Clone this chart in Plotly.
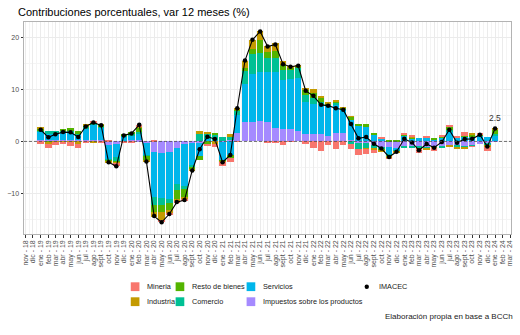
import plotly.graph_objects as go
import pandas as pd

# ---------------- data (ene-19 .. ene-24) ----------------
meses = ["ene", "feb", "mar", "abr", "may", "jun", "jul", "ago", "sept", "oct", "nov", "dic"]
tick_labels = ["nov - 18", "dic - 18"] + [f"{m} - {y}" for y in range(19, 24) for m in meses] + ["ene - 24", "feb - 24", "mar - 24"]

imacec = [2.25, 0.8, 1.4, 1.8, 1.75, 0.85, 2.9, 3.65, 3.1, -4.0, -4.8, 1.15,
          1.55, 3.2, -3.85, -14.4, -15.6, -14.0, -11.7, -11.3, -5.6, -1.5, 0.9, 0.45,
          -4.0, -2.6, 6.4, 15.6, 19.6, 21.2, 18.3, 18.7, 14.9, 14.4, 14.6, 9.75,
          8.8, 7.05, 6.9, 6.4, 6.1, 3.35, 0.6, 0.85, -0.45, -1.35, -3.0, -2.0,
          0.5, -0.2, -1.7, -0.5, -1.2, -0.1, 2.25, -0.25, 0.45, 0.5, 1.3, -1.0,
          2.5]
mineria = [-0.4, -0.9, -0.5, -0.3, -0.6, -0.8, -0.3, 0.4, -0.2, 0.1, -0.7, -0.1,
           -0.1, 0.5, 0.0, 0.1, -0.4, -0.1, -0.1, -0.2, 0.0, 0.0, -0.5, -0.75,
           -0.8, -0.8, -0.1, 0.0, 0.0, 0.0, -0.2, -0.2, -0.6, -0.1, 0.0, -0.5,
           -1.3, -1.75, -0.6, -1.5, -0.6, -1.1, -1.2, -1.0, -0.55, 0.25, -0.1, 0.0,
           0.3, 0.2, -0.8, 0.3, -0.5, 0.3, 0.55, 0.25, 0.75, -0.1, 0.3, -0.8,
           0.0]
industria = [0.2, -0.1, -0.1, -0.2, -0.2, -0.4, 0.2, -0.2, 0.1, -0.3, -0.1, -0.1,
             -0.1, 0.1, -0.1, -0.8, -1.5, -0.6, -0.5, -0.4, -0.1, 0.6, 0.2, -0.4,
             -0.1, 0.5, 0.3, 1.5, 1.8, 1.7, 1.1, 1.5, 0.7, 0.2, 0.1, 0.3,
             0.8, 0.3, 0.1, 0.1, 0.1, 0.1, 0.0, -0.1, -0.3, -0.4, -0.3, -0.1,
             0.0, 0.15, -0.1, -0.2, -0.1, 0.0, -0.3, -0.2, -0.1, 0.2, 0.1, -0.2,
             0.2]
resto = [0.3, -0.3, -0.1, 0.2, 0.5, 0.5, 0.2, 0.2, 0.3, -0.1, -0.1, 0.4,
         0.4, 0.7, -0.9, -1.4, -1.4, -1.4, -1.8, -1.6, -0.6, -0.6, -0.4, 0.3,
         -0.2, -0.6, 0.3, 0.6, 1.0, 2.5, 1.3, 1.4, 1.05, 0.6, 0.4, 1.0,
         1.0, 0.9, 0.2, 0.2, 0.1, 0.7, 0.4, 0.5, 0.3, -0.1, 0.3, 0.1,
         0.2, 0.2, -0.1, 0.1, 0.2, 0.1, 0.5, 0.1, 0.1, 0.4, 0.1, -0.1,
         0.8]
comercio = [0.2, 0.6, 0.5, 0.5, 0.3, 0.2, 0.3, 0.2, 0.2, -0.4, -0.9, 0.1,
            0.4, 0.4, -0.1, -1.6, -1.4, -0.8, -1.0, -0.6, -0.3, 1.4, 1.2, 1.0,
            0.8, 0.7, 0.8, 2.5, 3.7, 3.6, 2.6, 2.6, 1.95, 1.6, 1.8, 1.3,
            1.0, 0.6, 0.2, 0.5, 0.2, -0.4, -1.2, -1.0, -0.7, -0.6, -0.3, -0.2,
            -0.2, -0.35, -0.3, -0.4, -0.2, -0.35, 0.2, -0.3, -0.3, -0.1, 0.1, -0.4,
            0.5]
servicios = [1.7, 1.3, 1.3, 1.4, 1.5, 1.1, 2.2, 2.9, 2.4, -2.6, -2.6, 0.8,
             0.8, 1.2, -2.4, -8.6, -8.7, -9.0, -7.0, -8.0, -4.3, -2.6, 0.3, 0.2,
             -3.6, -2.6, 3.4, 7.2, 9.3, 9.5, 9.7, 10.9, 9.4, 9.7, 10.2, 6.2,
             5.8, 5.65, 5.9, 5.3, 4.6, 3.9, 2.9, 2.8, 1.4, 0.5, -1.6, -0.5,
             1.2, 0.6, 0.6, 0.7, 0.4, 0.85, 2.0, 0.7, 0.9, 0.9, 1.1, 0.8,
             0.9]
impuestos = [0.3, 0.2, 0.2, 0.2, 0.2, 0.2, 0.3, 0.3, 0.3, -0.7, -0.4, 0.1,
             0.2, 0.3, -0.3, -2.1, -2.2, -2.1, -1.3, -0.5, -0.3, -0.3, 0.1, 0.1,
             -0.1, 0.2, 1.7, 3.8, 3.8, 3.9, 3.7, 2.5, 2.4, 2.4, 2.1, 1.5,
             1.5, 1.35, 1.1, 1.7, 1.6, 0.2, -0.3, -0.3, -0.6, -1.0, -1.0, -1.3,
             -1.0, -1.0, -1.0, -1.0, -1.0, -1.0, -0.7, -0.8, -0.9, -0.8, -0.4, -0.3,
             0.1]

fechas = pd.date_range("2019-01-01", periods=len(imacec), freq="MS")
tick_dates = pd.date_range("2018-11-01", "2024-03-01", freq="MS")
minor_dates = [d + pd.Timedelta(days=15) for d in tick_dates[:-1]]

# stacking order from zero outwards
series = [
    ("Impuestos sobre los productos", impuestos, "#A58AFF"),
    ("Servicios", servicios, "#00B6EB"),
    ("Comercio", comercio, "#00C094"),
    ("Resto de bienes", resto, "#53B400"),
    ("Industria", industria, "#C49A00"),
    ("Mineria", mineria, "#F8766D"),
]
# legend key layout (column px of key centre, row index)
legend_pos = {
    "Mineria": (131.7, 0), "Industria": (131.7, 1),
    "Resto de bienes": (177.2, 0), "Comercio": (177.2, 1),
    "Servicios": (249.2, 0), "Impuestos sobre los productos": (249.2, 1),
}

W, H = 520, 335
L, R, T, B = 19, 7, 22, 101
pw, ph = W - L - R, H - T - B
row_py = [286.7, 301.7]


def px2x(px):
    return (px - L) / pw


def py2y(py):
    return (H - B - py) / ph


font_fam = "Liberation Sans, Arial"
fig = go.Figure()
bar_w = 0.85 * 30.44 * 86400000
for name, vals, col in series:
    fig.add_trace(go.Bar(x=fechas, y=vals, name=name, marker=dict(color=col, line=dict(width=0)),
                         width=bar_w, showlegend=False))
    cx, row = legend_pos[name]
    cy = row_py[row]
    fig.add_shape(type="rect", xref="paper", yref="paper", x0=px2x(cx - 4.4), x1=px2x(cx + 4.4),
                  y0=py2y(cy + 4.4), y1=py2y(cy - 4.4), fillcolor=col, line=dict(width=0))
    fig.add_annotation(xref="paper", yref="paper", x=px2x(cx + 10), y=py2y(cy), xanchor="left",
                       yanchor="middle", showarrow=False, text=name,
                       font=dict(size=7.3, color="#1A1A1A", family=font_fam))

fig.add_trace(go.Scatter(x=fechas, y=imacec, mode="lines+markers", name="IMACEC",
                         line=dict(color="black", width=1.1), marker=dict(color="black", size=4.5),
                         showlegend=False))
fig.add_shape(type="circle", xref="paper", yref="paper", x0=px2x(366.7 - 2.2), x1=px2x(366.7 + 2.2),
              y0=py2y(row_py[0] + 2.2), y1=py2y(row_py[0] - 2.2), fillcolor="black", line=dict(width=0))
fig.add_annotation(xref="paper", yref="paper", x=px2x(376.7), y=py2y(row_py[0]), xanchor="left",
                   yanchor="middle", showarrow=False, text="IMACEC",
                   font=dict(size=7.3, color="#1A1A1A", family=font_fam))

fig.add_hline(y=0, line=dict(color="#4D4D4D", width=0.8, dash="3px,2px"), layer="above")

fig.add_annotation(x=fechas[-1], y=imacec[-1], text=f"{imacec[-1]}", showarrow=False,
                   yshift=10, yanchor="middle", font=dict(size=8.5, color="#333333", family=font_fam))
fig.add_annotation(xref="paper", yref="paper", x=px2x(517), y=py2y(316.7), xanchor="right",
                   yanchor="middle", showarrow=False, text="Elaboración propia en base a BCCh",
                   font=dict(size=8, color="#1A1A1A", family=font_fam))

axis_font = dict(size=7, color="#4D4D4D", family=font_fam)
fig.update_layout(
    width=W, height=H,
    margin=dict(l=L, r=R, t=T, b=B),
    paper_bgcolor="white", plot_bgcolor="white",
    barmode="relative",
    bargap=0,
    showlegend=False,
    title=dict(text="Contribuciones porcentuales, var 12 meses (%)", xref="container", x=18 / W,
               xanchor="left", y=1 - 12 / H, yanchor="middle",
               font=dict(size=11, color="black", family=font_fam)),
    xaxis=dict(type="date", range=["2018-10-26", "2024-03-05"], tickmode="array",
               tickvals=list(tick_dates), ticktext=tick_labels, tickangle=-90, tickfont=axis_font,
               showgrid=True, gridcolor="#EBEBEB", gridwidth=0.8,
               minor=dict(tickvals=minor_dates, showgrid=True, gridcolor="#F4F4F4", gridwidth=0.6, ticklen=0),
               ticks="outside", ticklen=2.5, tickcolor="#333333", tickwidth=0.7,
               showline=True, linecolor="#B3B3B3", linewidth=1, mirror=True, zeroline=False),
    yaxis=dict(range=[-17.85, 23.03], tickvals=[-10, 0, 10, 20], tickfont=axis_font,
               showgrid=True, gridcolor="#EBEBEB", gridwidth=0.8,
               minor=dict(tickvals=[-15, -5, 5, 15], showgrid=True, gridcolor="#F4F4F4", gridwidth=0.6, ticklen=0),
               ticks="outside", ticklen=2.5, tickcolor="#333333", tickwidth=0.7,
               showline=True, linecolor="#B3B3B3", linewidth=1, mirror=True, zeroline=False),
)

fig.write_html("out.html")
